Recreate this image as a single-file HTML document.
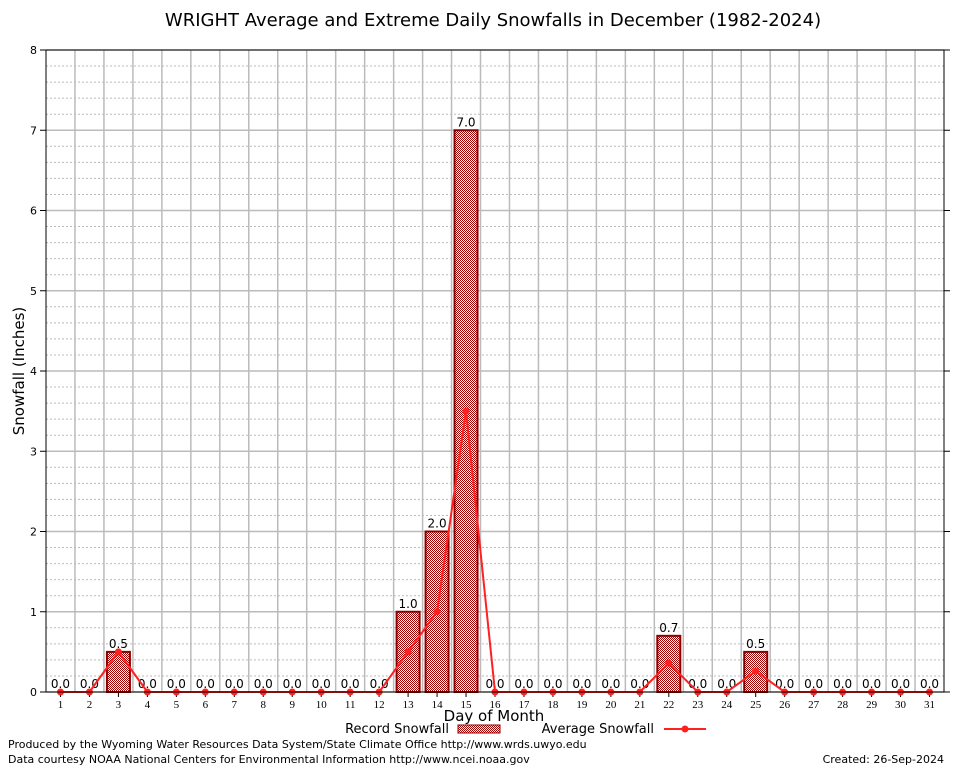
<!DOCTYPE html>
<html><head><meta charset="utf-8"><style>
body{margin:0;background:#fff;width:954px;height:768px;overflow:hidden;font-family:"DejaVu Sans","Liberation Sans",sans-serif}
</style></head><body>
<svg id="c" width="954" height="768" xmlns="http://www.w3.org/2000/svg">
<defs><pattern id="hatch" width="2" height="2" patternUnits="userSpaceOnUse"><rect width="2" height="2" fill="#fff"/><rect width="1" height="1" fill="#a00000"/><rect x="1" y="1" width="1" height="1" fill="#a00000"/></pattern></defs>
<rect x="0" y="0" width="954" height="768" fill="#fff"/>
<text x="493" y="26" font-size="18" text-anchor="middle" fill="#000">WRIGHT Average and Extreme Daily Snowfalls in December (1982-2024)</text>
<g id="grid"></g><g id="marks"></g>
<rect x="46" y="50" width="898" height="642" fill="none" stroke="#000" stroke-width="1"/>
<text transform="translate(24,371) rotate(-90)" font-size="15" text-anchor="middle">Snowfall (Inches)</text>
<text x="494" y="721" font-size="15" text-anchor="middle">Day of Month</text>
<g><text x="449" y="733" font-size="13" text-anchor="end">Record Snowfall</text><rect x="458" y="725" width="42" height="8" fill="url(#hatch)" stroke="#8b0000"/></g>
<g><text x="654" y="733" font-size="13" text-anchor="end">Average Snowfall</text><line x1="664" y1="729" x2="706" y2="729" stroke="#ff2020" stroke-width="2"/><circle cx="685" cy="729" r="3.5" fill="#ff2020"/></g>
<text x="8" y="748" font-size="11">Produced by the Wyoming Water Resources Data System/State Climate Office http://www.wrds.uwyo.edu</text>
<text x="8" y="763" font-size="11">Data courtesy NOAA National Centers for Environmental Information http://www.ncei.noaa.gov</text>
<text x="944" y="763" font-size="11" text-anchor="end">Created:  26-Sep-2024</text>
</svg>
<script>
const days=[1,2,3,4,5,6,7,8,9,10,11,12,13,14,15,16,17,18,19,20,21,22,23,24,25,26,27,28,29,30,31];
const recordVals=[0,0,0.5,0,0,0,0,0,0,0,0,0,1.0,2.0,7.0,0,0,0,0,0,0,0.7,0,0,0.5,0,0,0,0,0,0];
const avgVals=[0,0,0.5,0,0,0,0,0,0,0,0,0,0.5,1.0,3.5,0,0,0,0,0,0,0.36,0,0,0.26,0,0,0,0,0,0];
const yTicks=[0,1,2,3,4,5,6,7,8];
const NS="http://www.w3.org/2000/svg";
const X=d=>46+(d-0.5)*898/31;
const Y=v=>692-v*642/8;
function mk(tag,attrs,parent,txt){const e=document.createElementNS(NS,tag);for(const k in attrs)e.setAttribute(k,attrs[k]);if(txt!==undefined)e.textContent=txt;parent.appendChild(e);return e;}
const grid=document.getElementById('grid'),marks=document.getElementById('marks');
for(let v=0;v<8;v+=0.2){const y=Y(v);if(Math.abs(v-Math.round(v))>0.01){const l=mk('line',{x1:46,x2:944,y1:y,y2:y,stroke:'#bbb','stroke-dasharray':'2,2'},grid);

}}
yTicks.forEach(v=>{const y=Y(v);const l=mk('line',{x1:46,x2:944,y1:y,y2:y,stroke:'#bbb','stroke-width':1.5},grid);


mk('line',{x1:40,x2:46,y1:y,y2:y,stroke:'#000'},grid);mk('line',{x1:944,x2:950,y1:y,y2:y,stroke:'#000'},grid);
const t=mk('text',{x:37,y:y+4,'font-size':11,'text-anchor':'end'},grid,String(v));

});
days.forEach(d=>{if(d<31){const x=X(d+0.5);const l=mk('line',{x1:x,x2:x,y1:50,y2:692,stroke:'#bbb','stroke-width':1.5},grid);

}
mk('line',{x1:X(d),x2:X(d),y1:692,y2:697,stroke:'#000'},grid);
const t=mk('text',{x:X(d),y:708,'font-size':11,'text-anchor':'middle','font-family':'Liberation Serif,serif'},grid,String(d));

});
days.forEach((d,i)=>{const v=recordVals[i];
if(v>0){const r=mk('rect',{x:X(d)-11.5,y:Y(v),width:23,height:Y(0)-Y(v),fill:'url(#hatch)',stroke:'#8b0000','stroke-width':2},marks);

}
const t=mk('text',{x:X(d),y:Y(v)-4,'font-size':12,'text-anchor':'middle'},marks,v.toFixed(1));

});
const pts=days.map((d,i)=>X(d)+','+Y(avgVals[i])).join(' ');
const pl=mk('polyline',{points:pts,fill:'none',stroke:'#ff2020','stroke-width':2},marks);


days.forEach((d,i)=>{const c=mk('circle',{cx:X(d),cy:Y(avgVals[i]),r:3.5,fill:'#ff2020'},marks);

});
</script>
</body></html>
